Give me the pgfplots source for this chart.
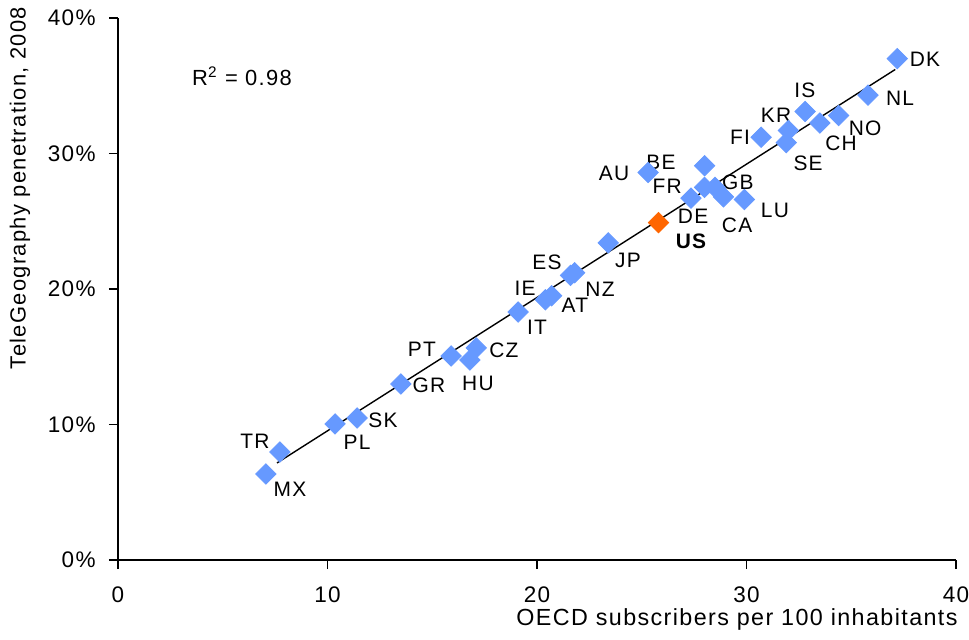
\documentclass[border=0pt]{standalone}
\usepackage{pgfplots}
\pgfplotsset{compat=1.18}
\usepackage{fontspec}
\setmainfont{Liberation Sans}[LetterSpace=6]
\definecolor{ptblue}{HTML}{6699FF}
\definecolor{usorange}{HTML}{FF6600}
\begin{document}
\fontsize{10.5}{12.6}\selectfont
\begin{tikzpicture}
\begin{axis}[name=ax, scale only axis, width=419bp, height=271bp,
  xmin=0, xmax=40, ymin=0, ymax=40,
  axis x line*=bottom, axis y line*=left,
  axis line style={line width=0.65bp, black},
  tick style={line width=0.65bp, black},
  tick align=outside, major tick length=4.5bp,
  xtick={0,10,20,30,40}, ytick={0,10,20,30,40},
  yticklabels={0\%,10\%,20\%,30\%,40\%},
  /pgf/number format/assume math mode=true,
  tick label style={font=\fontsize{11.3}{13}\selectfont},
  xticklabel style={yshift=-5bp},
  yticklabel style={xshift=-3bp},
  xlabel={OECD subscribers per 100 inhabitants},
  xlabel style={at={(axis description cs:1,0)}, anchor=base east, yshift=-32.5bp, xshift=1bp, inner sep=0pt, font=\fontsize{11.7}{13}\selectfont},
  ylabel={TeleGeography penetration, 2008},
  ylabel style={at={(axis description cs:0,0.686)}, anchor=center, yshift=49bp, inner sep=0pt, font=\fontsize{11}{13}\selectfont},
  clip=false]
% trend line
\addplot[black, line width=0.7bp] coordinates {(7.59,7.16) (37.1,36.2)};
% countries
\addplot[only marks, mark=square*, mark size=3.6bp, mark options={rotate=45, fill=ptblue, draw=ptblue}] table {
x y
7.06 6.35
7.73 7.97
10.36 10.04
11.41 10.48
13.50 12.99
15.90 15.06
16.80 14.76
17.10 15.65
19.10 18.30
20.40 19.20
20.70 19.50
21.60 21.00
21.80 21.20
23.40 23.40
25.30 28.60
28.00 29.10
27.35 26.70
28.00 27.50
28.50 27.50
28.90 26.80
29.90 26.60
30.70 31.20
32.00 31.70
31.90 30.80
32.80 33.10
33.50 32.25
34.40 32.80
35.80 34.30
37.20 37.00
};
\addplot[only marks, mark=square*, mark size=3.6bp, mark options={rotate=45, fill=usorange, draw=usorange}] coordinates {(25.8,24.9)};
% labels
\node at (axis cs:38.52,36.97) {DK};
\node at (axis cs:37.33,34.10) {NL};
\node at (axis cs:35.66,31.88) {NO};
\node at (axis cs:34.51,30.77) {CH};
\node at (axis cs:32.94,29.30) {SE};
\node at (axis cs:31.41,32.84) {KR};
\node at (axis cs:32.79,34.69) {IS};
\node at (axis cs:29.69,31.22) {FI};
\node at (axis cs:25.92,29.37) {BE};
\node at (axis cs:23.68,28.56) {AU};
\node at (axis cs:26.21,27.60) {FR};
\node at (axis cs:29.59,27.90) {GB};
\node at (axis cs:27.45,25.39) {DE};
\node at (axis cs:29.55,24.72) {CA};
\node at (axis cs:31.36,25.83) {LU};
\node[font=\fontsize{10.5}{12.6}\selectfont\bfseries] at (axis cs:27.35,23.54) {US};
\node at (axis cs:24.34,22.14) {JP};
\node at (axis cs:20.48,21.99) {ES};
\node at (axis cs:23.01,20.00) {NZ};
\node at (axis cs:19.43,20.07) {IE};
\node at (axis cs:21.81,18.82) {AT};
\node at (axis cs:20.00,17.20) {IT};
\node at (axis cs:14.51,15.57) {PT};
\node at (axis cs:18.42,15.50) {CZ};
\node at (axis cs:17.18,13.06) {HU};
\node at (axis cs:14.84,12.92) {GR};
\node at (axis cs:12.65,10.33) {SK};
\node at (axis cs:11.41,8.71) {PL};
\node at (axis cs:6.54,8.78) {TR};
\node at (axis cs:8.21,5.24) {MX};
\node[font=\fontsize{11}{13}\selectfont] at (axis cs:5.92,35.72) {R\textsuperscript{2} = 0.98};
\end{axis}
\pgfresetboundingbox
\path[use as bounding box] ([shift={(-59bp,-40bp)}]ax.south west) rectangle ([shift={(425.5bp,280bp)}]ax.south west);
\end{tikzpicture}
\end{document}
